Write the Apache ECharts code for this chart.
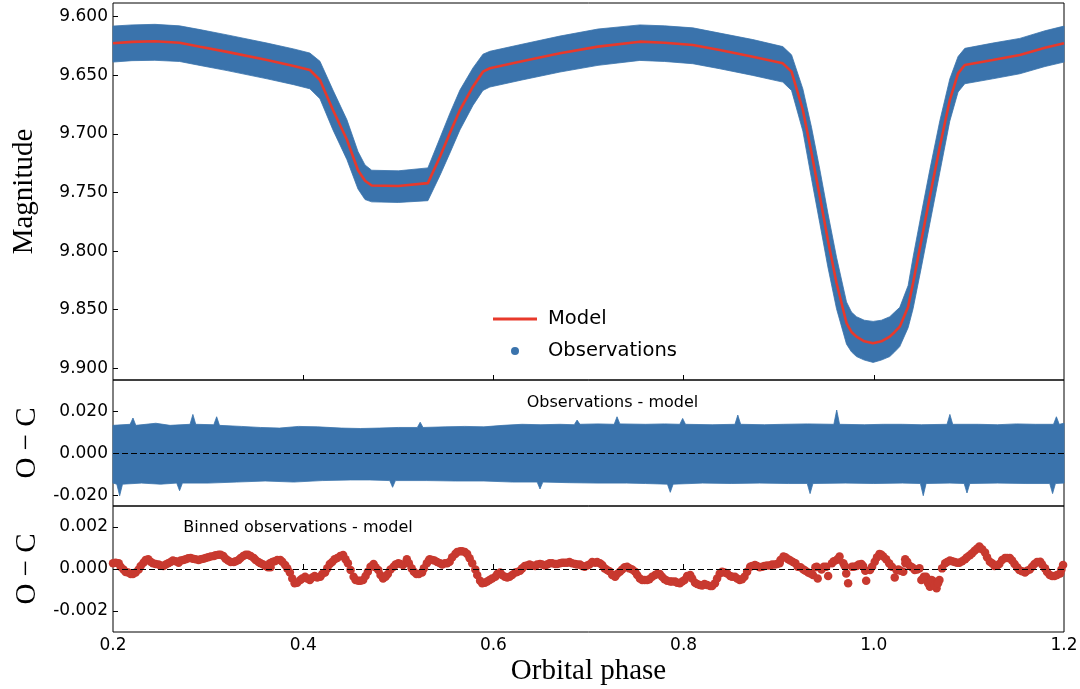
<!DOCTYPE html>
<html>
<head>
<meta charset="utf-8">
<script src="https://cdn.jsdelivr.net/npm/echarts@6/dist/echarts.min.js"></script>
<style>
html,body{margin:0;padding:0;background:#fff;}
#chart{width:1080px;height:689px;}
</style>
</head>
<body>
<div id="chart"></div>
<script>
// ---------- tick labels ----------
const phaseTicks = [0.2, 0.4, 0.6, 0.8, 1.0, 1.2];
const magTicks = [9.60, 9.65, 9.70, 9.75, 9.80, 9.85, 9.90];
const ocTicks = [-0.02, 0, 0.02];
const binTicks = [-0.002, 0, 0.002];

// ---------- model light curve ----------
const modelPhase = [0.200,0.220,0.244,0.270,0.2915,0.320,0.362,0.390,0.407,0.4176,0.4313,0.446,0.4576,0.465,0.472,0.500,0.5311,0.5438,0.5543,0.5648,0.5785,0.589,0.5963,0.630,0.670,0.710,0.754,0.780,0.8097,0.838,0.8728,0.9043,0.9135,0.9254,0.9345,0.9433,0.9517,0.9608,0.9713,0.9765,0.9818,0.990,0.9993,1.008,1.0168,1.022,1.0273,1.0361,1.0413,1.0501,1.0589,1.0694,1.0799,1.0886,1.0957,1.125,1.1535,1.180,1.200];
const modelMag = [9.6227,9.6215,9.6210,9.6222,9.6256,9.6300,9.6370,9.6420,9.6455,9.6540,9.6796,9.7050,9.7310,9.7400,9.7440,9.7445,9.7420,9.7195,9.6993,9.6796,9.6597,9.6469,9.6440,9.6380,9.6312,9.6255,9.6213,9.6222,9.6241,9.6284,9.6341,9.6398,9.6469,9.6796,9.7163,9.7536,9.7905,9.8272,9.8614,9.8690,9.8730,9.8770,9.8787,9.8770,9.8730,9.8690,9.8645,9.8474,9.8272,9.7905,9.7536,9.7109,9.6711,9.6483,9.6412,9.6370,9.6327,9.6265,9.6227];

// ---------- observation cloud envelope (upper / lower edge, same phases as model) ----------
const obsTop = [9.6080,9.6070,9.6065,9.6078,9.6110,9.6155,9.6225,9.6275,9.6310,9.6380,9.6626,9.6880,9.7150,9.7265,9.7310,9.7315,9.7290,9.7035,9.6823,9.6626,9.6437,9.6320,9.6295,9.6235,9.6165,9.6105,9.6070,9.6078,9.6095,9.6140,9.6195,9.6255,9.6325,9.6616,9.6943,9.7306,9.7675,9.8052,9.8434,9.8520,9.8560,9.8590,9.8600,9.8590,9.8560,9.8520,9.8480,9.8294,9.8052,9.7675,9.7306,9.6889,9.6531,9.6340,9.6270,9.6225,9.6185,9.6120,9.6080];
const obsBottom = [9.6387,9.6375,9.6372,9.6382,9.6416,9.6460,9.6530,9.6580,9.6615,9.6700,9.6966,9.7220,9.7470,9.7560,9.7580,9.7585,9.7570,9.7355,9.7163,9.6966,9.6757,9.6629,9.6600,9.6540,9.6472,9.6415,9.6373,9.6382,9.6401,9.6444,9.6501,9.6558,9.6629,9.6976,9.7383,9.7766,9.8135,9.8492,9.8794,9.8860,9.8900,9.8930,9.8950,9.8930,9.8900,9.8860,9.8815,9.8654,9.8492,9.8135,9.7766,9.7329,9.6891,9.6643,9.6572,9.6530,9.6487,9.6425,9.6387];

// ---------- residual cloud envelope ----------
const residUpPhase = [0.200,0.218,0.221,0.224,0.245,0.260,0.281,0.284,0.287,0.306,0.309,0.312,0.335,0.355,0.375,0.395,0.415,0.440,0.460,0.480,0.500,0.520,0.523,0.526,0.550,0.570,0.590,0.610,0.630,0.650,0.670,0.685,0.688,0.691,0.710,0.727,0.730,0.733,0.760,0.780,0.796,0.799,0.802,0.830,0.854,0.857,0.860,0.885,0.905,0.930,0.958,0.961,0.964,0.990,1.010,1.030,1.050,1.077,1.080,1.083,1.110,1.130,1.150,1.170,1.189,1.192,1.195,1.200];
const residUp = [0.0135,0.0140,0.0170,0.0135,0.0145,0.0135,0.0140,0.0187,0.0140,0.0138,0.0176,0.0135,0.0130,0.0125,0.0122,0.0130,0.0128,0.0122,0.0120,0.0122,0.0125,0.0125,0.0150,0.0125,0.0128,0.0130,0.0128,0.0135,0.0140,0.0138,0.0140,0.0138,0.0160,0.0140,0.0142,0.0140,0.0176,0.0142,0.0140,0.0142,0.0140,0.0168,0.0140,0.0138,0.0140,0.0184,0.0140,0.0138,0.0140,0.0142,0.0140,0.0208,0.0140,0.0138,0.0140,0.0140,0.0138,0.0140,0.0187,0.0140,0.0140,0.0138,0.0142,0.0140,0.0140,0.0176,0.0140,0.0145];
const residLoPhase = [0.200,0.204,0.207,0.210,0.230,0.250,0.267,0.270,0.273,0.300,0.330,0.360,0.390,0.420,0.450,0.470,0.491,0.494,0.497,0.530,0.560,0.590,0.620,0.646,0.649,0.652,0.680,0.710,0.740,0.760,0.783,0.786,0.789,0.820,0.850,0.880,0.910,0.930,0.933,0.936,0.970,1.000,1.030,1.049,1.052,1.055,1.080,1.095,1.098,1.101,1.130,1.160,1.185,1.188,1.191,1.200];
const residLo = [-0.0140,-0.0145,-0.0200,-0.0145,-0.0140,-0.0145,-0.0140,-0.0176,-0.0140,-0.0140,-0.0135,-0.0130,-0.0135,-0.0128,-0.0125,-0.0125,-0.0128,-0.0160,-0.0128,-0.0128,-0.0130,-0.0130,-0.0135,-0.0135,-0.0168,-0.0135,-0.0138,-0.0140,-0.0140,-0.0142,-0.0145,-0.0184,-0.0145,-0.0140,-0.0142,-0.0140,-0.0142,-0.0142,-0.0190,-0.0142,-0.0140,-0.0142,-0.0140,-0.0142,-0.0200,-0.0142,-0.0140,-0.0142,-0.0187,-0.0142,-0.0140,-0.0142,-0.0142,-0.0190,-0.0142,-0.0140];

// ---------- binned residuals, first reading pass (phase, mmag) ----------
const binnedPhaseA = [
0.200,0.206,0.211,0.216,0.221,0.227,0.232,0.237,0.242,0.248,0.253,0.258,0.263,0.269,0.274,0.279,0.284,0.290,0.295,0.300,0.306,0.311,0.316,0.321,0.327,0.332,0.337,0.342,0.348,0.353,0.358,0.363,
0.365,0.370,0.376,0.381,0.386,0.391,0.397,0.402,0.407,0.412,0.418,0.423,0.428,0.433,0.439,0.442,0.447,0.453,0.458,0.463,0.468,0.474,0.479,0.484,0.489,0.495,0.500,0.505,0.509,0.514,0.519,0.525,0.530,
0.533,0.538,0.544,0.549,0.554,0.560,0.565,0.570,0.575,0.581,0.586,0.591,0.596,0.602,0.607,0.612,0.617,0.623,0.628,0.633,0.638,0.644,0.649,0.654,0.659,0.665,0.670,0.675,0.680,0.686,0.691,0.696,0.701,
0.707,0.712,0.717,0.722,0.728,0.733,0.738,0.743,0.749,0.754,0.759,0.764,0.770,0.775,0.780,0.786,0.791,0.796,0.801,0.807,0.812,0.817,0.822,0.828,0.833,0.838,0.843,0.849,0.854,0.859,0.864,0.870,
0.875,0.880,0.885,0.891,0.896,0.901,0.905,0.910,0.915,0.920,0.926,0.931,0.936,0.940,0.941,0.945,0.950,0.952,0.956,0.961,0.964,0.968,0.971,0.973,0.977,0.982,0.987,0.991,0.992,0.996,1.001,1.006,1.010,1.013,1.019,1.022,1.026,1.031,
1.033,1.038,1.043,1.048,1.050,1.055,1.059,1.062,1.066,1.069,1.075,1.080,1.085,1.090,1.096,1.101,1.106,1.111,1.117,1.122,1.127,1.132,1.138,1.143,1.148,1.153,1.159,1.164,1.169,1.175,1.180,1.185,1.190,1.196,1.199];
const binnedMmagA = [
0.27,0.27,-0.02,-0.17,-0.24,-0.02,0.30,0.46,0.27,0.21,0.14,0.27,0.40,0.30,0.43,0.51,0.49,0.43,0.49,0.56,0.62,0.68,0.62,0.40,0.33,0.43,0.62,0.68,0.52,0.33,0.21,0.08,
0.27,0.37,0.43,0.19,-0.17,-0.68,-0.52,-0.37,-0.52,-0.33,-0.37,-0.17,0.24,0.46,0.62,0.67,0.27,-0.37,-0.56,-0.52,-0.13,0.24,-0.05,-0.45,-0.24,0.11,0.27,0.19,0.46,0.03,-0.24,-0.17,0.27,
0.46,0.40,0.27,0.27,0.35,0.72,0.84,0.81,0.51,-0.02,-0.56,-0.65,-0.52,-0.37,-0.17,-0.37,-0.37,-0.17,-0.08,0.14,0.21,0.14,0.24,0.17,0.27,0.24,0.27,0.30,0.33,0.24,0.21,0.11,0.21,
0.30,0.27,0.03,-0.11,-0.37,-0.13,0.08,0.03,-0.13,-0.45,-0.52,-0.49,-0.29,-0.24,-0.49,-0.60,-0.60,-0.68,-0.52,-0.29,-0.65,-0.76,-0.71,-0.81,-0.68,-0.21,-0.17,-0.33,-0.37,-0.52,-0.37,0.11,
0.19,0.08,0.14,0.17,0.21,0.27,0.59,0.46,0.33,0.11,-0.02,-0.17,-0.29,0.11,-0.45,-0.02,0.11,-0.33,0.27,0.43,0.59,0.27,-0.21,-0.68,0.11,0.14,0.24,-0.08,-0.56,-0.05,0.35,0.72,0.59,0.46,0.11,-0.40,-0.02,-0.13,
0.46,0.14,-0.05,0.03,-0.52,-0.37,-0.84,-0.56,-0.92,-0.52,0.27,0.40,0.33,0.30,0.46,0.65,0.87,1.07,0.78,0.35,0.14,0.24,0.52,0.52,0.24,-0.05,-0.17,-0.02,0.24,0.35,0.03,-0.29,-0.33,-0.21,0.19];

// ---------- binned residuals, second reading pass (phase, mmag) ----------
const binnedPhaseB = [
0.2027,0.2080,0.2133,0.2186,0.2238,0.2291,0.2343,0.2396,0.2448,0.2501,0.2554,0.2606,0.2659,0.2711,0.2764,0.2816,0.2869,0.2922,0.2974,0.3027,0.3079,0.3132,0.3184,0.3237,0.3290,0.3342,0.3395,0.3447,0.3500,0.3552,0.3605,0.3657,
0.3675,0.3727,0.3780,0.3832,0.3885,0.3937,0.3990,0.4042,0.4095,0.4148,0.4200,0.4253,0.4305,0.4358,0.4445,0.4498,0.4551,0.4603,0.4656,0.4708,0.4761,0.4813,0.4866,0.4918,0.4971,0.5024,0.5111,0.5164,0.5216,0.5269,0.5321,
0.5357,0.5409,0.5462,0.5514,0.5567,0.5619,0.5672,0.5724,0.5777,0.5830,0.5882,0.5935,0.5987,0.6040,0.6092,0.6145,0.6197,0.6250,0.6303,0.6355,0.6408,0.6460,0.6513,0.6565,0.6618,0.6671,0.6723,0.6776,0.6828,0.6881,0.6933,0.6986,
0.7039,0.7091,0.7144,0.7196,0.7249,0.7301,0.7354,0.7406,0.7459,0.7512,0.7564,0.7617,0.7669,0.7722,0.7774,0.7827,0.7879,0.7932,0.7985,0.8037,0.8090,0.8142,0.8195,0.8247,0.8300,0.8352,0.8405,0.8458,0.8510,0.8563,0.8615,0.8668,
0.8721,0.8773,0.8826,0.8878,0.8931,0.8983,0.9018,0.9071,0.9123,0.9176,0.9229,0.9281,0.9334,0.9386,0.9474,0.9579,0.9625,0.9695,0.9789,0.9842,0.9887,0.9982,1.0034,1.0080,1.0161,1.0238,1.0280,1.0332,
1.0351,1.0403,1.0456,1.0526,1.0571,1.0606,1.0641,1.0676,1.0718,1.0771,1.0824,1.0876,1.0929,1.0981,1.1034,1.1086,1.1139,1.1191,1.1244,1.1297,1.1349,1.1402,1.1454,1.1507,1.1559,1.1612,1.1665,1.1717,1.1770,1.1822,1.1875,1.1927,1.1973];
const binnedMmagB = [
0.30,0.11,-0.14,-0.24,-0.17,0.14,0.43,0.35,0.24,0.17,0.21,0.33,0.37,0.40,0.46,0.52,0.46,0.46,0.52,0.59,0.65,0.68,0.49,0.33,0.37,0.52,0.68,0.62,0.43,0.27,0.14,0.08,
0.33,0.43,0.35,0.03,-0.45,-0.65,-0.45,-0.45,-0.40,-0.40,-0.24,0.03,0.33,0.52,0.46,-0.05,-0.52,-0.56,-0.33,0.11,0.08,-0.29,-0.37,-0.02,0.21,0.24,0.27,-0.13,-0.24,0.03,0.40,
0.43,0.33,0.21,0.27,0.56,0.81,0.84,0.72,0.27,-0.29,-0.68,-0.60,-0.45,-0.24,-0.29,-0.40,-0.29,-0.14,0.03,0.17,0.17,0.21,0.21,0.22,0.27,0.24,0.30,0.30,0.27,0.21,0.14,0.17,
0.33,0.33,0.19,-0.05,-0.29,-0.24,-0.02,0.11,-0.02,-0.29,-0.52,-0.52,-0.37,-0.24,-0.37,-0.56,-0.60,-0.65,-0.60,-0.33,-0.45,-0.71,-0.78,-0.76,-0.81,-0.45,-0.13,-0.21,-0.37,-0.45,-0.49,-0.13,
0.14,0.14,0.11,0.17,0.21,0.24,0.43,0.56,0.40,0.27,0.08,-0.08,-0.21,0.08,0.11,0.37,0.49,0.14,0.11,0.21,0.14,0.11,0.56,0.68,0.27,-0.05,-0.08,0.27,
0.35,0.08,-0.02,-0.37,-0.68,-0.52,-0.76,-0.68,0.03,0.33,0.37,0.30,0.37,0.56,0.75,0.97,0.94,0.56,0.27,0.17,0.43,0.52,0.40,0.08,-0.11,-0.08,0.11,0.33,0.21,-0.14,-0.33,-0.29,-0.02];

// ---------- styling ----------
const BLUE = '#3a73ac';
const RED = '#e8392b';
const BIN_RED = '#c8392f';
const SANS = 'DejaVu Sans';
const SERIF = 'Liberation Serif';

const obsPolygon = modelPhase.map((p, i) => [p, obsTop[i]])
  .concat(modelPhase.map((p, i) => [p, obsBottom[i]]).reverse());
const residPolygon = residUpPhase.map((p, i) => [p, residUp[i]])
  .concat(residLoPhase.map((p, i) => [p, residLo[i]]).reverse());
const binnedData = binnedPhaseA.map((p, i) => [p, binnedMmagA[i] / 1000])
  .concat(binnedPhaseB.map((p, i) => [p, binnedMmagB[i] / 1000]));

function polygonSeries(name, data, axisIdx) {
  return {
    type: 'custom', name: name, xAxisIndex: axisIdx, yAxisIndex: axisIdx,
    data: data, silent: true, z: 1,
    itemStyle: { color: BLUE },
    renderItem: function (params, api) {
      if (params.dataIndex !== 0) return null;
      return {
        type: 'polygon',
        shape: { points: data.map(d => api.coord(d)) },
        style: { fill: BLUE, stroke: BLUE, lineWidth: 0.8 }
      };
    }
  };
}

const chart = echarts.init(document.getElementById('chart'), null, { renderer: 'canvas' });

const gridBase = { left: 113, right: 16, show: true, borderColor: '#000', borderWidth: 1, backgroundColor: 'transparent', containLabel: false, outerBoundsMode: 'none' };
const innerPhaseTicks = phaseTicks.slice(1, -1);

function xAxisFor(i) {
  const ax = {
    type: 'value', gridIndex: i, min: 0.2, max: 1.2,
    axisLine: { show: false },
    splitLine: { show: false },
    axisTick: { show: true, inside: true, length: 5, lineStyle: { color: '#000', width: 1 }, customValues: innerPhaseTicks },
    axisLabel: { show: false }
  };
  if (i === 2) {
    ax.axisLabel = { show: true, customValues: phaseTicks, formatter: v => v.toFixed(1), fontSize: 17, color: '#000', fontFamily: SANS, margin: 5 };
    ax.name = 'Orbital phase';
    ax.nameLocation = 'middle';
    ax.nameGap = 25;
    ax.nameTextStyle = { fontFamily: SERIF, fontSize: 29, color: '#000' };
  }
  return ax;
}

function yAxisFor(i, min, max, ticks, name, gap, inverse) {
  return {
    type: 'value', gridIndex: i, min: min, max: max, inverse: !!inverse,
    axisLine: { show: false },
    splitLine: { show: false },
    axisTick: { show: true, inside: true, length: 5, lineStyle: { color: '#000', width: 1 }, customValues: ticks },
    axisLabel: { show: true, customValues: ticks, formatter: v => v.toFixed(3), fontSize: 17, color: '#000', fontFamily: SANS, margin: 5 },
    name: name, nameLocation: 'middle', nameRotate: 90, nameGap: gap,
    nameTextStyle: { fontFamily: SERIF, fontSize: 29, color: '#000' }
  };
}

const zeroLine = (idx) => ({
  type: 'line', xAxisIndex: idx, yAxisIndex: idx, data: [], z: 6, silent: true,
  markLine: {
    silent: true, symbol: ['none', 'none'], label: { show: false },
    lineStyle: { color: '#000', type: [6, 3], width: 1.2 },
    data: [{ yAxis: 0 }]
  }
});

const option = {
  animation: false,
  backgroundColor: '#ffffff',
  grid: [
    Object.assign({ top: 3, height: 377 }, gridBase),
    Object.assign({ top: 380, height: 126 }, gridBase),
    Object.assign({ top: 506, height: 126 }, gridBase)
  ],
  xAxis: [xAxisFor(0), xAxisFor(1), xAxisFor(2)],
  yAxis: [
    yAxisFor(0, 9.5883, 9.910, magTicks, 'Magnitude', 74, true),
    yAxisFor(1, -0.0249, 0.0351, ocTicks, 'O \u2212 C', 63, false),
    yAxisFor(2, -0.003, 0.003, binTicks, 'O \u2212 C', 63, false)
  ],
  legend: {
    data: [
      { name: 'Model', icon: 'path://M0,0L44,0L44,3L0,3Z' },
      { name: 'Observations', icon: 'circle' }
    ],
    orient: 'vertical', left: 488, top: 304,
    itemWidth: 44, itemHeight: 8, itemGap: 12,
    symbolKeepAspect: true,
    selectedMode: false,
    textStyle: { fontSize: 19.5, fontFamily: SANS, color: '#000', padding: [0, 0, 0, 6] }
  },
  graphic: [
    { type: 'text', x: 612.5, y: 403, silent: true,
      style: { text: 'Observations - model', fontSize: 16, fontFamily: SANS, fill: '#000', align: 'center', verticalAlign: 'middle', textAlign: 'center', textVerticalAlign: 'middle' } },
    { type: 'text', x: 298, y: 528, silent: true,
      style: { text: 'Binned observations - model', fontSize: 16, fontFamily: SANS, fill: '#000', align: 'center', verticalAlign: 'middle', textAlign: 'center', textVerticalAlign: 'middle' } }
  ],
  series: [
    polygonSeries('Observations', obsPolygon, 0),
    {
      type: 'line', name: 'Model', xAxisIndex: 0, yAxisIndex: 0,
      data: modelPhase.map((p, i) => [p, modelMag[i]]),
      symbol: 'none', smooth: false, z: 3, silent: true,
      lineStyle: { color: RED, width: 2.6 }, itemStyle: { color: RED }
    },
    polygonSeries('Residuals', residPolygon, 1),
    zeroLine(1),
    {
      type: 'scatter', name: 'Binned', xAxisIndex: 2, yAxisIndex: 2,
      data: binnedData,
      symbolSize: 8.5, z: 3, silent: true,
      itemStyle: { color: BIN_RED, opacity: 1 }
    },
    zeroLine(2)
  ]
};
chart.setOption(option);
</script>
</body>
</html>
